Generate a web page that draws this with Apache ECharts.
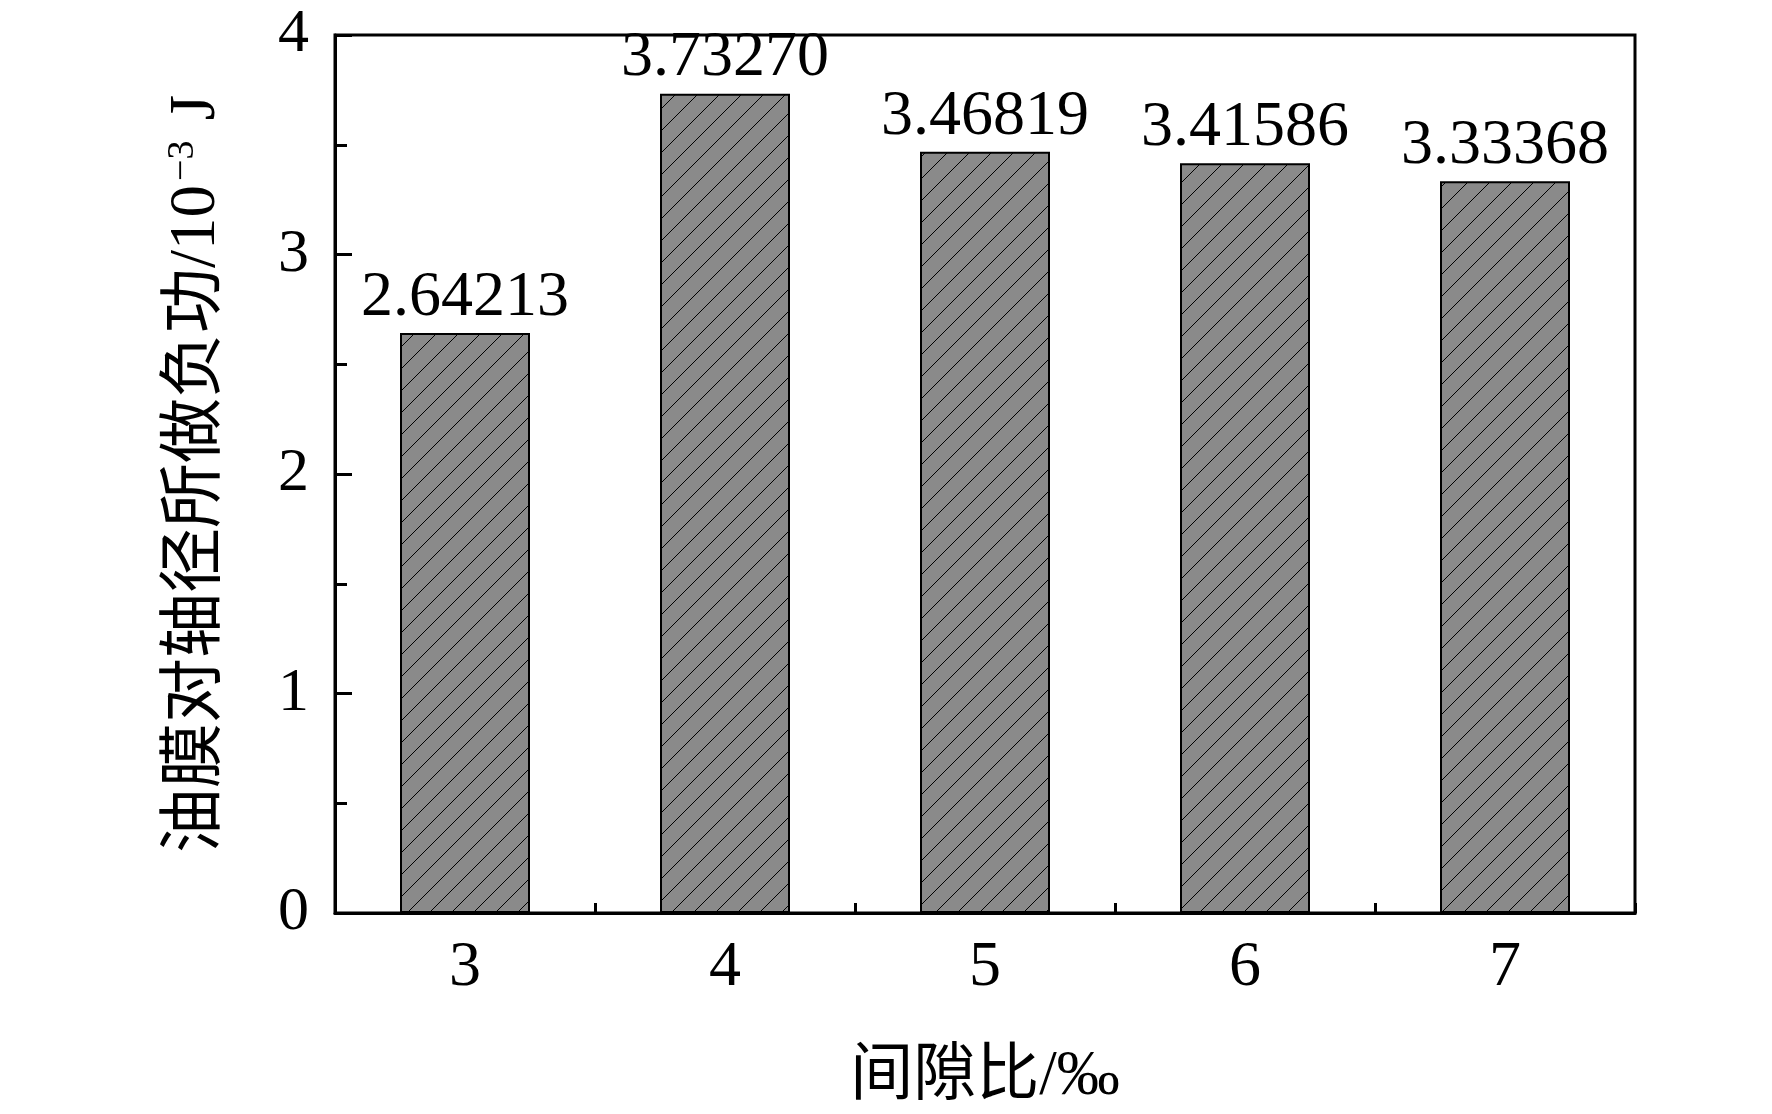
<!DOCTYPE html>
<html>
<head>
<meta charset="utf-8">
<style>
html,body{margin:0;padding:0;background:#fff;}
#main{width:1772px;height:1114px;}
</style>
<script src="https://cdn.jsdelivr.net/npm/echarts@6/dist/echarts.min.js"></script>
</head>
<body>
<div id="main"></div>
<script>
const categories = ['3', '4', '5', '6', '7'];
const values = [2.64213, 3.73270, 3.46819, 3.41586, 3.33368];
const yTickMin = 0, yTickMax = 4, yTickStep = 1;
const xTitle = '间隙比/‰';

const FONT = '"Liberation Serif", "Times New Roman", "Noto Sans CJK SC", serif';

function hatch() {
  const s = 22;
  const c = document.createElement('canvas');
  c.width = s; c.height = s;
  const g = c.getContext('2d');
  g.fillStyle = '#8a8a8a';
  g.fillRect(0, 0, s, s);
  g.strokeStyle = '#000';
  g.lineWidth = 1;
  g.beginPath();
  g.moveTo(-2, s + 2); g.lineTo(s + 2, -2);
  g.moveTo(-2, 2); g.lineTo(2, -2);
  g.moveTo(s - 2, s + 2); g.lineTo(s + 2, s - 2);
  g.stroke();
  return c;
}

const chart = echarts.init(document.getElementById('main'), null, {renderer: 'canvas'});
chart.setOption({
  backgroundColor: '#fff',
  animation: false,
  grid: {left: 335, right: 137, top: 35, bottom: 201, show: true, borderColor: '#000', borderWidth: 3, backgroundColor: 'transparent'},
  xAxis: [{
    type: 'category',
    data: categories,
    position: 'bottom',
    name: xTitle,
    nameLocation: 'middle',
    nameGap: 133,
    nameTextStyle: {fontFamily: FONT, fontSize: 63, color: '#000'},
    axisLine: {show: true, lineStyle: {color: '#000', width: 3}},
    axisTick: {show: true, inside: true, alignWithLabel: true, length: 15, lineStyle: {color: '#000', width: 3}},
    axisLabel: {fontFamily: FONT, fontSize: 64, color: '#000', margin: 23},
    splitLine: {show: false}
  }, {
    type: 'category',
    data: categories,
    position: 'bottom',
    axisLine: {show: false},
    axisTick: {show: true, inside: true, length: 10, lineStyle: {color: '#000', width: 3}},
    axisLabel: {show: false},
    splitLine: {show: false}
  }],
  yAxis: {
    type: 'value',
    min: yTickMin, max: yTickMax, interval: yTickStep,
    name: '{a|油膜对轴径所做负功/10}{s|−3}{a| J}',
    nameLocation: 'middle',
    nameGap: 106,
    nameTextStyle: {
      rich: {
        a: {fontFamily: FONT, fontSize: 65, color: '#000'},
        s: {fontFamily: FONT, fontSize: 38, color: '#000', verticalAlign: 'top', padding: [0, 4, 0, 4]}
      }
    },
    axisLine: {show: true, lineStyle: {color: '#000', width: 3}},
    axisTick: {show: true, inside: true, length: 17, lineStyle: {color: '#000', width: 3}},
    minorTick: {show: true, splitNumber: 2, length: 12, lineStyle: {color: '#000', width: 3}},
    axisLabel: {fontFamily: FONT, fontSize: 62, color: '#000', margin: 26},
    splitLine: {show: false},
    minorSplitLine: {show: false}
  },
  series: [{
    type: 'bar',
    data: values,
    barWidth: '50%',
    itemStyle: {color: {image: hatch(), repeat: 'repeat'}, borderColor: '#000', borderWidth: 2},
    label: {
      show: true, position: 'top', distance: 3,
      fontFamily: FONT, fontSize: 64, color: '#000',
      formatter: p => p.value.toFixed(5)
    }
  }]
});
</script>
</body>
</html>
